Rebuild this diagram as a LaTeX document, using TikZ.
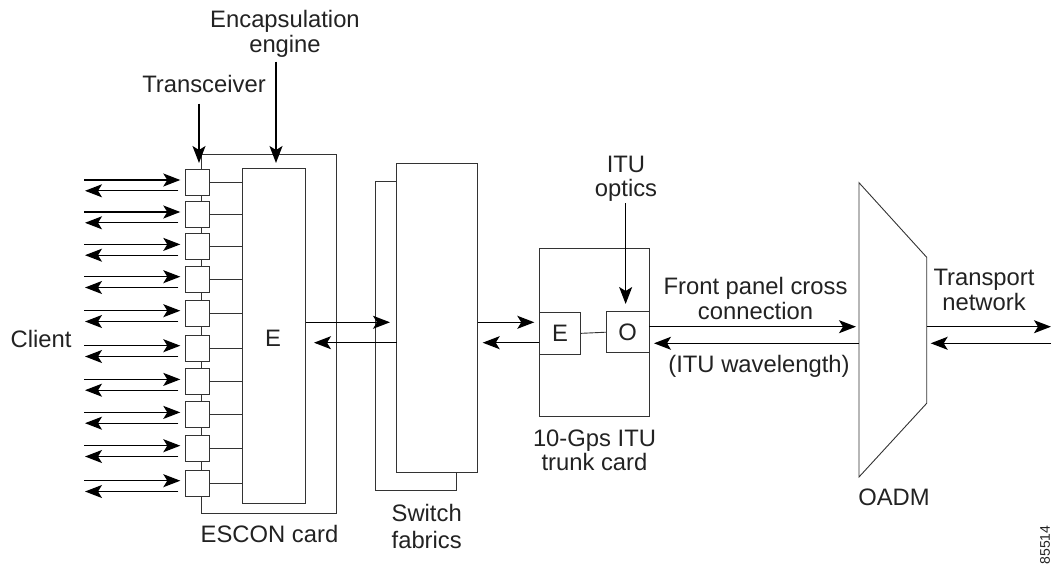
\documentclass[tikz,border=0pt]{standalone}
\usepackage{fontspec}
\setmainfont{Liberation Sans}
\usetikzlibrary{arrows.meta,calc}
\definecolor{linec}{HTML}{333333}
\definecolor{textc}{HTML}{222222}
\tikzset{
  box/.style={draw=linec, line width=0.9pt, inner sep=0pt, outer sep=0pt, fill=white},
  frame/.style={draw=linec, line width=0.9pt, inner sep=0pt, outer sep=0pt},
  thinl/.style={draw=linec, line width=0.9pt},
  arr/.style={-{Stealth[length=17pt,width=13pt,inset=4pt]}, line width=1.3pt, draw=black},
  lbl/.style={inner sep=0pt, outer sep=0pt, text=textc, align=center,
    font=\fontsize{23.8}{24.5}\selectfont},
}
\begin{document}
\begin{tikzpicture}[x=1pt,y=-1pt]
\useasboundingbox (0,0) rectangle (1053,567);
% level coordinates
\coordinate (yA) at (0,322.3);
\coordinate (yB) at (0,342.7);
\coordinate (yC) at (0,326.7);
\coordinate (yD) at (0,343.3);
\coordinate (netR) at (1051,0);
% ESCON card
\node[frame, minimum width=134.3pt, minimum height=359pt] (escon) at (268.85,333.5) {};
\node[box, minimum width=63pt, minimum height=335pt] (Ebox) at (274.2,335.8) {};
\node[lbl] (Elbl) at (273,338) {E};
\foreach \t [count=\i] in {169.3,201.3,233.7,266,300,335,368.7,401.7,435,470} {
  \node[box, minimum width=24.4pt, minimum height=26pt] (sq\i) at (197.5,\t+13) {};
}
\foreach \i in {1,...,10} {
  \draw[thinl] (sq\i.east) -- (sq\i.east -| Ebox.west);
  \draw[arr] ($(sq\i.west)+(-101.3,-2.3)$) -- ($(sq\i.west)+(-5,-2.3)$);
  \draw[arr] ($(sq\i.west)+(-7,8.5)$) -- ($(sq\i.west)+(-100.3,8.5)$);
}
% switch fabrics
\node[box, minimum width=81pt, minimum height=309pt] (swB) at (416.2,336.2) {};
\node[box, minimum width=81pt, minimum height=309.4pt] (swF) at (437.2,318) {};
% trunk card
\node[frame, minimum width=110pt, minimum height=168.4pt] (trunk) at (594.3,332.5) {};
\node[box, minimum width=41.4pt, minimum height=41.3pt, text=textc, font=\fontsize{23.8}{24}\selectfont] (tE) at (560,333.35) {E};
\node[box, minimum width=43.3pt, minimum height=41pt, text=textc, font=\fontsize{23.8}{24}\selectfont] (tO) at (627.65,332.2) {O};
\draw[thinl] (tE.east) -- (tO.west);
% OADM
\coordinate (oTL) at (859,182.7);
\coordinate (oTR) at (926.7,257.3);
\coordinate (oBR) at (926.7,403.3);
\coordinate (oBL) at (859,477);
\draw[thinl, line join=miter] (oTL) -- (oTR) -- (oBR) -- (oBL) -- cycle;
% connectors
\draw[arr] (Ebox.east |- yA) -- ($(swF.west |- yA)+(-6.7,0)$);
\draw[arr] (swF.west |- yB) -- ($(Ebox.east |- yB)+(8.3,0)$);
\draw[arr] (swF.east |- yA) -- ($(trunk.west |- yA)+(-5,0)$);
\draw[arr] (trunk.west |- yB) -- ($(swF.east |- yB)+(5,0)$);
\draw[arr] (tO.east |- yC) -- ($(oTL |- yC)+(-3,0)$);
\draw[arr] (oTL |- yD) -- ($(tO.east |- yD)+(4.7,0)$);
\draw[arr] (oTR |- yC) -- (netR |- yC);
\draw[arr] (netR |- yD) -- ($(oTR |- yD)+(4,0)$);
% labels
\node[lbl] (tr) at (204,84) {Transceiver};
\node[lbl] (enc) at (285,34) {Encapsulation\\engine};
\node[lbl] (itu) at (626,179) {ITU\\optics};
\node[lbl] (fp) at (755.5,298.3) {Front panel cross\\connection};
\node[lbl] (wl) at (759,366) {(ITU wavelength)};
\node[lbl] (tn) at (984,290) {Transport\\network};
\node[lbl] (cl) at (41,339.3) {Client};
\node[lbl] (escl) at (269.5,534) {ESCON card};
\node[lbl, font=\fontsize{23.8}{27}\selectfont] (swl) at (426.7,526) {Switch\\fabrics};
\node[lbl] (trl) at (594.5,450.5) {10-Gps ITU\\trunk card};
\node[lbl] (oadm) at (894,497.7) {OADM};
\node[inner sep=0pt, rotate=90, text=textc, font=\fontsize{14}{14}\selectfont] (num) at (1045,545) {85514};
% label arrows
\draw[arr] ($(tr.south)+(-5,11)$) -- ($(sq1.north)+(1.5,-6.3)$);
\draw[arr] ($(Ebox.north)+(1.8,-106.6)$) -- ($(Ebox.north)+(1.8,-5.3)$);
\draw[arr] ($(tO.north)+(-2,-108.4)$) -- ($(tO.north)+(-2,-7.7)$);
\end{tikzpicture}
\end{document}
